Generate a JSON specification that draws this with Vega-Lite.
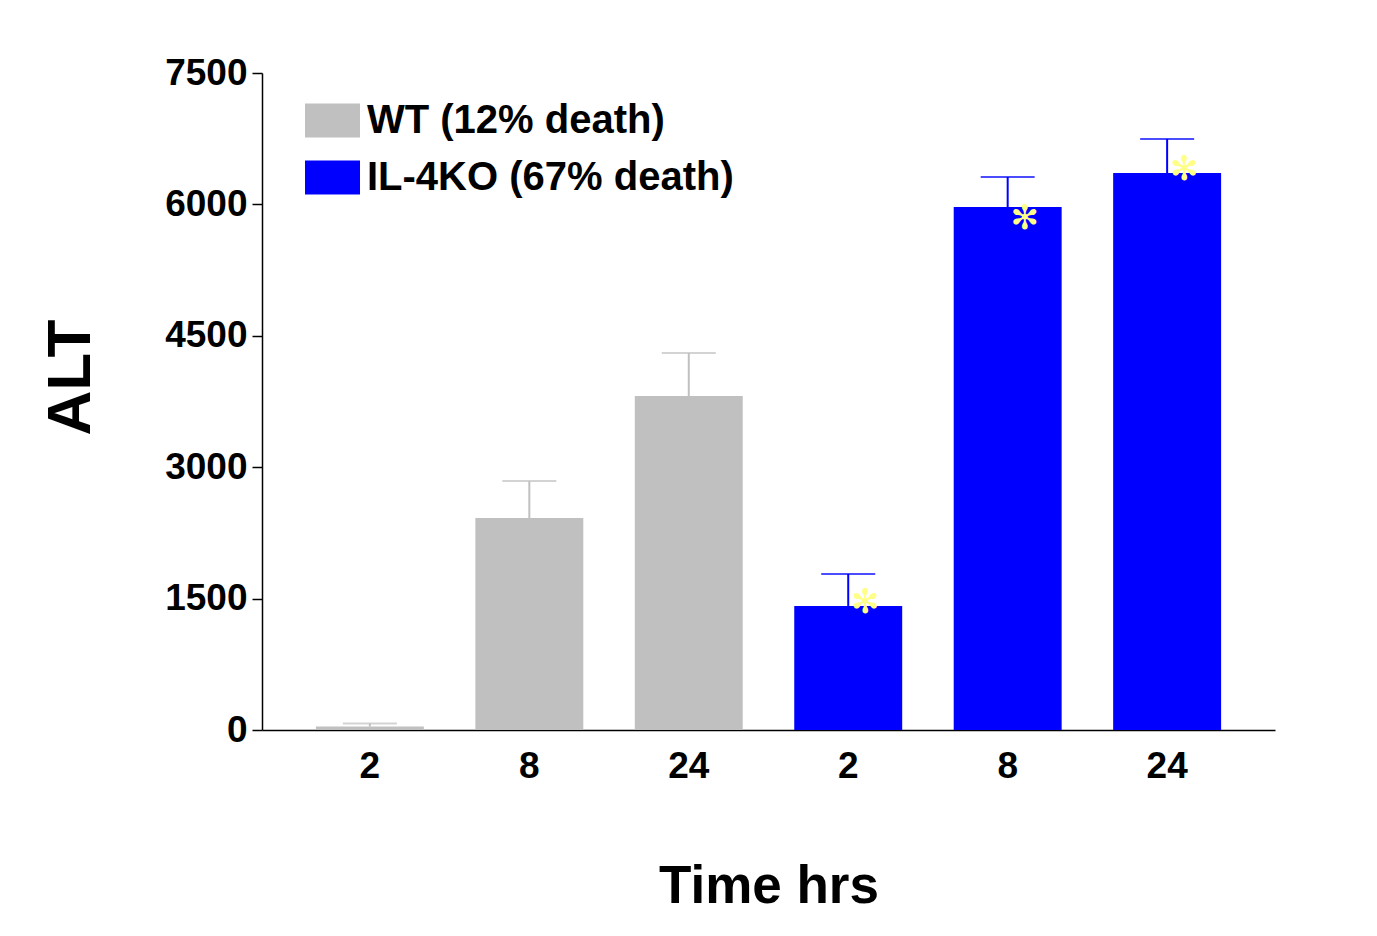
{
  "$schema": "https://vega.github.io/schema/vega-lite/v6.json",
  "width": 1013,
  "height": 657,
  "autosize": {"type": "none"},
  "padding": {"left": 262, "top": 73, "right": 102, "bottom": 206},
  "background": "white",
  "config": {
    "font": "Liberation Sans",
    "view": {"stroke": null},
    "axis": {"labelFont": "Liberation Sans", "titleFont": "Liberation Sans", "labelFontWeight": "bold", "titleFontWeight": "bold", "labelColor": "black", "titleColor": "black", "domainColor": "black", "tickColor": "black", "grid": false}
  },
  "data": {
    "values": [
      {"key": "WT 2", "group": "WT (12% death)", "mean": 40, "upper": 75},
      {"key": "WT 8", "group": "WT (12% death)", "mean": 2420, "upper": 2842},
      {"key": "WT 24", "group": "WT (12% death)", "mean": 3813, "upper": 4304},
      {"key": "KO 2", "group": "IL-4KO (67% death)", "mean": 1416, "upper": 1781, "star": 1450},
      {"key": "KO 8", "group": "IL-4KO (67% death)", "mean": 5970, "upper": 6313, "star": 5839},
      {"key": "KO 24", "group": "IL-4KO (67% death)", "mean": 6358, "upper": 6747, "star": 6387}
    ]
  },
  "encoding": {
    "x": {
      "field": "key", "type": "nominal", "sort": null,
      "scale": {"paddingInner": 0.323, "paddingOuter": 0.338},
      "axis": {"title": "Time hrs", "labelExpr": "split(datum.label, ' ')[1]", "labelAngle": 0, "labelFontSize": 37, "labelPadding": 18, "ticks": false, "domainWidth": 1.5, "titleFontSize": 53, "titleBaseline": "alphabetic", "titleY": 172, "titlePadding": 0}
    }
  },
  "layer": [
    {
      "mark": {"type": "bar"},
      "encoding": {
        "y": {
          "field": "mean", "type": "quantitative",
          "scale": {"domain": [0, 7500], "nice": false},
          "axis": {"title": "ALT", "format": "d", "values": [0, 1500, 3000, 4500, 6000, 7500], "labelFontSize": 37, "labelPadding": 5, "tickSize": 10, "tickWidth": 1.5, "domainWidth": 1.5, "titleFontSize": 62, "titleX": -192, "titleY": 304, "titleAngle": -90, "titleBaseline": "middle", "titleAlign": "center"}
        },
        "color": {
          "field": "group", "type": "nominal",
          "scale": {"domain": ["WT (12% death)", "IL-4KO (67% death)"], "range": ["#C0C0C0", "#0000FF"]},
          "legend": {"title": null, "orient": "none", "legendX": 43, "legendY": 20, "padding": 0, "symbolType": "M-1,-0.618H1V0.618H-1Z", "symbolSize": 3025, "symbolStrokeWidth": 0, "symbolOpacity": 1, "labelFontSize": 40, "labelFontWeight": "bold", "labelFont": "Liberation Sans", "labelColor": "black", "labelOffset": 7, "rowPadding": 9, "labelLimit": 600}
        }
      }
    },
    {
      "mark": {"type": "rule", "strokeWidth": 2},
      "encoding": {
        "y": {"field": "mean", "type": "quantitative"},
        "y2": {"field": "upper"},
        "color": {"field": "group", "type": "nominal", "legend": null}
      }
    },
    {
      "mark": {"type": "tick", "size": 54, "thickness": 2},
      "encoding": {
        "y": {"field": "upper", "type": "quantitative"},
        "color": {"field": "group", "type": "nominal", "legend": null}
      }
    },
    {
      "transform": [{"filter": "isValid(datum.star)"}],
      "mark": {"type": "text", "text": "✻", "font": "DejaVu Sans", "fontSize": 34, "color": "#FFFF88", "dx": 17, "baseline": "middle", "align": "center"},
      "encoding": {
        "y": {"field": "star", "type": "quantitative"}
      }
    }
  ]
}
